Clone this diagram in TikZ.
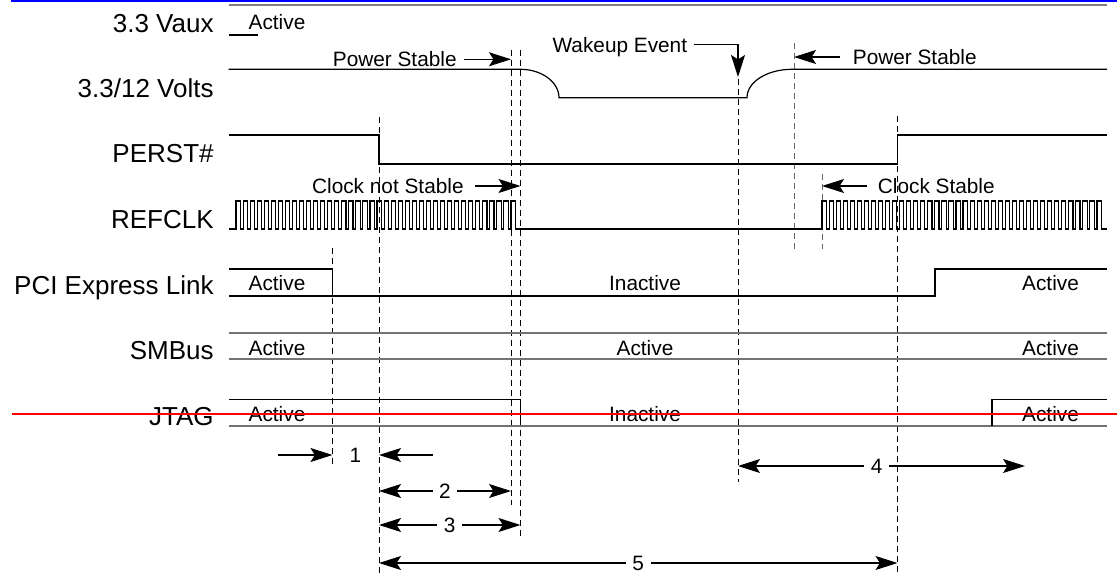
\documentclass[tikz,border=0pt]{standalone}
\usepackage{fontspec}
\setmainfont{Liberation Sans}
\usetikzlibrary{arrows.meta}

\tikzset{
  sig/.style={line width=0.6pt},
  bus/.style={line width=1pt, black!55},
  tline/.style={line width=0.5pt, dash pattern=on 3pt off 2pt},
  arr/.style={line width=0.6pt, -{Stealth[length=11pt,width=7pt,inset=2.2pt]}},
  dim/.style={line width=0.6pt, {Stealth[length=11pt,width=7pt,inset=2.2pt]}-{Stealth[length=11pt,width=7pt,inset=2.2pt]}},
  lbl/.style={anchor=east, inner sep=0pt, text depth=0pt, font=\fontsize{13}{15}\selectfont},
  txt/.style={text depth=0pt, font=\fontsize{10.4}{12}\selectfont},
}

\begin{document}
\begin{tikzpicture}[x=0.5pt,y=-0.5pt]
    \useasboundingbox (0,0) rectangle (1117,576);
    % 事件时刻
    \coordinate (tA) at (332.5,0);
    \coordinate (tB) at (379,0);
    \coordinate (tC) at (511,0);
    \coordinate (tD) at (520.5,0);
    \coordinate (tE) at (738,0);
    \coordinate (tF) at (794,0);
    \coordinate (tG) at (822,0);
    \coordinate (tH) at (897.5,0);

    % 顶部的线
    \draw[blue, line width=1pt] (11,1) -- (1117,1);
    \draw[gray, line width=1pt] (228.5,5) -- (1107,5);

    % 信号名称
    \node[lbl] (nVaux) at (214,23.3) {3.3 Vaux};
    \node[lbl] (nVolt) at (214,88.3) {3.3/12 Volts};
    \node[lbl] (nPerst) at (214,153.5) {PERST\#};
    \node[lbl] (nClk) at (214,219.5) {REFCLK};
    \node[lbl] (nPcie) at (214,285.5) {PCI Express Link};
    \node[lbl] (nSmb) at (214,350) {SMBus};
    \node[lbl] (nJtag) at (214,416) {JTAG};

    % 虚线
    \draw[tline] (tA |- 0,248) -- (tA |- 0,465);
    \draw[tline] (tB |- 0,117) -- (tB |- 0,576);
    \draw[tline] (tC |- 0,50) -- (tC |- 0,505);
    \draw[tline] (tD |- 0,50) -- (tD |- 0,538);
    \draw[tline] (tE |- 0,79) -- (tE |- 0,482);
    \draw[tline, black!60] (tF |- 0,43) -- (tF |- 0,249);
    \draw[tline, black!60] (tG |- 0,174) -- (tG |- 0,249);
    \draw[tline] (tH |- 0,116) -- (tH |- 0,576);

    % 波形
    \draw[sig] (228.5,35) -- (258,35);
    \node[txt] (aVaux) at (277,21.7) {Active};

    \draw[sig] (228.5,69.3) -- (520.5,69.3) .. controls (541.5,69.3) and (559,82) .. (559,97.7)
        -- (747,97.7) .. controls (747,82) and (767,69.3) .. (792,69.3) -- (1107,69.3);

    \draw[sig] (228.5,135) -- (tB |- 0,135) -- (tB |- 0,164) -- (tH |- 0,164) -- (tH |- 0,135) -- (1107,135);

    \draw[sig, line width=0.55pt] (228.5,229) -- (236,229)
        \foreach \i in {1,...,40} { -- ++(0,-28) -- ++(4.2,0) -- ++(0,28) -- ++(2.85,0) }
        -- (tG |- 0,229)
        \foreach \i in {1,...,40} { -- ++(0,-28) -- ++(4.2,0) -- ++(0,28) -- ++(2.85,0) }
        -- (1107,229);

    \draw[sig] (228.5,269) -- (tA |- 0,269) -- (tA |- 0,296);
    \draw[sig] (228.5,296) -- (935,296) -- (935,269) -- (1107,269);
    \node[txt] (aPcie1) at (277,283.3) {Active};
    \node[txt] (iPcie) at (645,283.3) {Inactive};
    \node[txt] (aPcie2) at (1050.5,283.3) {Active};

    \draw[bus] (228.5,333.3) -- (1107,333.3);
    \draw[bus] (228.5,359.3) -- (1107,359.3);
    \node[txt] (aSmb1) at (277,348) {Active};
    \node[txt] (aSmb2) at (645,348) {Active};
    \node[txt] (aSmb3) at (1050.5,348) {Active};

    \draw[sig] (228.5,399.3) -- (tD |- 0,399.3) -- (tD |- 0,425.7);
    \draw[bus] (228.5,425.7) -- (1107,425.7);
    \draw[sig] (992,425.7) -- (992,399.3) -- (1107,399.3);
    \node[txt] (aJtag1) at (277,413.7) {Active};
    \node[txt] (iJtag) at (645,413.7) {Inactive};
    \node[txt] (aJtag2) at (1050.5,413.7) {Active};

    % 标注
    \node[txt, anchor=east, inner xsep=3.5pt] (psA) at (464,59.3) {Power Stable};
    \draw[arr] (psA.east) -- (tC |- psA.east);
    \node[txt, anchor=east, inner xsep=3.25pt] (wake) at (694,44.5) {Wakeup Event};
    \draw[arr] (wake.east) -- (tE |- wake.east) -- (tE |- 0,77);
    \node[txt, anchor=west, inner xsep=6.45pt] (psB) at (839.6,57) {Power Stable};
    \draw[arr] (psB.west) -- (tF |- psB.west);
    \node[txt, anchor=east, inner xsep=5.5pt] (cns) at (475,186) {Clock not Stable};
    \draw[arr] (cns.east) -- (tD |- cns.east);
    \node[txt, anchor=west, inner xsep=5.25pt] (cs) at (867,186) {Clock Stable};
    \draw[arr] (cs.west) -- (tG |- cs.west);

    % 时间间隔
    \coordinate (d1L) at (278,455);
    \coordinate (d1R) at (432.5,455);
    \draw[arr] (d1L) -- (tA |- d1L);
    \node[txt] (d1) at (355.5,455) {1};
    \draw[arr] (d1R) -- (tB |- d1R);
    \draw[dim] (tB |- 0,491) -- node[txt, fill=white] (d2) {2} (tC |- 0,491);
    \draw[dim] (tB |- 0,525) -- node[txt, fill=white] (d3) {3} (tD |- 0,525);
    \coordinate (d4R) at (1025,466);
    \draw[dim] (tE |- d4R) -- node[txt, fill=white, pos=0.483] (d4) {4} (d4R);
    \draw[dim] (tB |- 0,563) -- node[txt, fill=white] (d5) {5} (tH |- 0,563);

    \draw[red, line width=1pt] (12,414) -- (1117,414);
\end{tikzpicture}
\end{document}
